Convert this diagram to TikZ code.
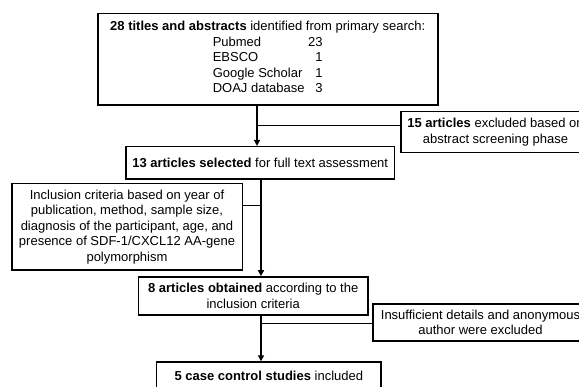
\documentclass[tikz,border=0pt]{standalone}
\usepackage{fontspec}
\setmainfont{Liberation Sans}
\usetikzlibrary{arrows.meta}

\begin{document}
\begin{tikzpicture}[
            x=1pt, y=-1pt,
            font=\fontsize{13}{15.5}\selectfont,
            box/.style={draw, line width=1.6pt, align=center, inner sep=0pt}, % every box
            spine/.style={line width=1.6pt, -{Triangle[length=6pt,width=6pt]}},
            branch/.style={line width=0.8pt}
          ]
          \useasboundingbox (0,0) rectangle (579,387);

          % Main column
          \node[box, minimum width=340pt, minimum height=91.7pt] (titles) at (267.7,59.2)
            {\textbf{28 titles and abstracts} identified from primary search:\\
             \begin{tabular}[t]{@{}l@{\hspace{3.6pt}}r@{}}
               Pubmed & 23\\
               EBSCO & 1\\
               Google Scholar & 1\\
               DOAJ database & 3
             \end{tabular}};
          \node[box, minimum width=268.3pt, minimum height=32.6pt] (selected) at (260.2,163)
            {\textbf{13 articles selected} for full text assessment};
          \node[box, minimum width=229.6pt, minimum height=38pt] (obtained) at (253.2,296)
            {\textbf{8 articles obtained} according to the\\ inclusion criteria};
          \node[box, minimum width=224.3pt, minimum height=27pt] (studies) at (268.8,375.6)
            {\textbf{5 case control studies} included};

          % Side boxes
          \node[box, minimum width=189pt, minimum height=41pt] (screening) at (495.5,132.2)
            {\textbf{15 articles} excluded based on\\ abstract screening phase};
          \node[box, minimum width=230.6pt, minimum height=86.7pt] (criteria) at (127,226.7)
            {Inclusion criteria based on year of\\ publication, method, sample size,\\
             diagnosis of the participant, age, and\\ presence of SDF-1/CXCL12 AA-gene\\ polymorphism};
          \node[box, minimum width=215pt, minimum height=37pt] (anonymous) at (480.5,322.5)
            {Insufficient details and anonymous\\ author were excluded};

          % Spines of the flow
          \coordinate (upper) at (257,125);
          \coordinate (middle) at (261,205.7);
          \coordinate (lower) at (261,323);
          \draw[spine] (titles.south -| upper) -- (selected.north -| upper);
          \draw[spine] (selected.south -| middle) -- (obtained.north -| middle);
          \draw[spine] (obtained.south -| lower) -- (studies.north -| lower);

          % Branches
          \draw[branch] (upper) -- (upper -| screening.west);
          \draw[branch] (middle -| criteria.east) -- (middle);
          \draw[branch] (lower) -- (lower -| anonymous.west);

        \end{tikzpicture}
\end{document}
